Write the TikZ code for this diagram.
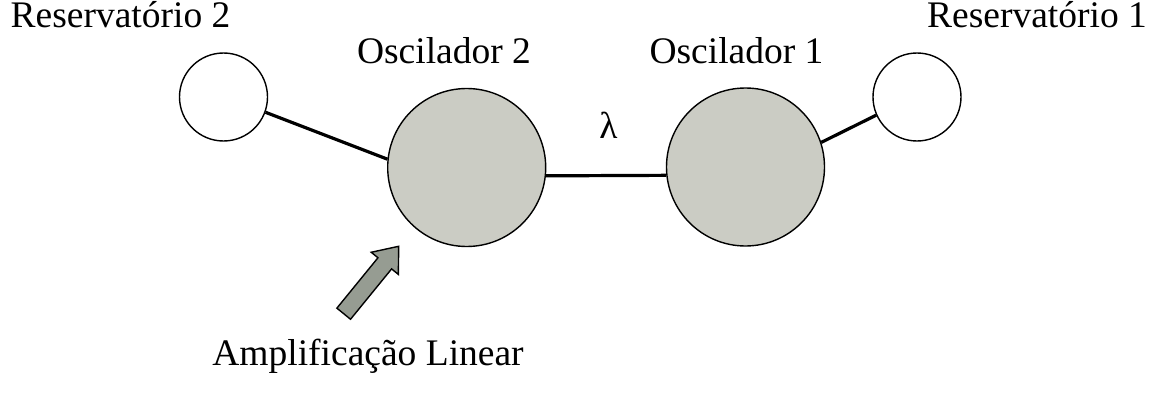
\documentclass[tikz,border=0pt]{standalone}
\usepackage{fontspec}
\setmainfont{Liberation Serif}
\definecolor{oscfill}{HTML}{CBCCC4}
\definecolor{arrfill}{HTML}{969C92}
\begin{document}
\begin{tikzpicture}[x=1pt,y=1pt,
  lbl/.style={inner sep=0pt, anchor=base, font=\fontsize{37.5}{44}\selectfont},
  res/.style={circle, draw, line width=1.4pt, fill=white, minimum size=88pt, inner sep=0pt},
  osc/.style={circle, draw, line width=1.4pt, fill=oscfill, minimum size=158pt, inner sep=0pt},
  link/.style={line width=3.2pt}]
\useasboundingbox (0,0) rectangle (1168,392);
% nodes
\node[res] (res2) at (223.5,295) {};
\node[res] (res1) at (917,295) {};
\node[osc] (osc2) at (466.7,224.5) {};
\node[osc] (osc1) at (745.5,225) {};
% labels
\node[lbl] (lres2) at (120.5,364.5) {Reservatório 2};
\node[lbl] (lres1) at (1037,364.5) {Reservatório 1};
\node[lbl] (losc2) at (444,328) {Oscilador 2};
\node[lbl] (losc1) at (736.5,328) {Oscilador 1};
\node[lbl] (lam) at (608.5,254) {λ};
\node[lbl] (lamp) at (368,26.5) {Amplificação Linear};
% connectors
\draw[link] (res2.-20) -- (osc2.174);
\draw[link] (osc2.-6) -- (osc1.186);
\draw[link] (osc1.18) -- (res1.204);
% amplification arrow
\begin{scope}[shift={(343.7,78.3)}, rotate=50.8]
  \coordinate (ampTail) at (0,0);
  \draw[fill=arrfill, line width=1.4pt, line join=miter]
    (0,-8.8) -- (65,-8.8) -- (65,-17.5) -- (87,0) -- (65,17.5) -- (65,8.8) -- (0,8.8) -- cycle;
\end{scope}
\end{tikzpicture}
\end{document}
